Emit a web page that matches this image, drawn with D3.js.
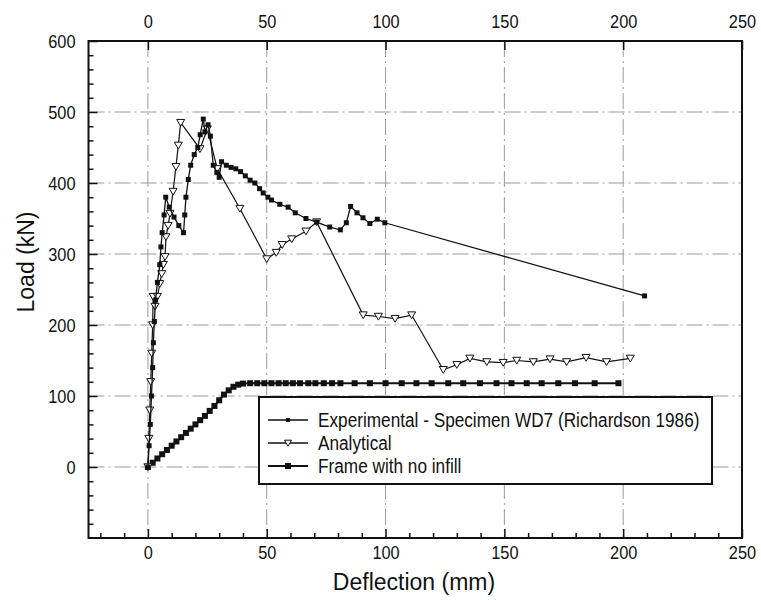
<!DOCTYPE html>
<html>
<head>
<meta charset="utf-8">
<script src="https://cdn.jsdelivr.net/npm/d3@7"></script>
<style>
  body { margin: 0; background: #fff; }
  text { font-family: "Liberation Sans", Arial, sans-serif; fill: #111; }
</style>
</head>
<body>
<svg></svg>
<script>
// Experimental - Specimen WD7 (Richardson 1986): [deflection mm, load kN]
let experimental = [
    [0, 0], [0.5, 30], [1, 60], [1.5, 100], [2, 140], [2.3, 175], [2.7, 205], [3.2, 235],
    [4, 260], [5, 285], [5.5, 310], [6, 330], [6.8, 355], [7.5, 380], [9, 366], [11, 352],
    [13, 340], [15, 330], [15.5, 355], [16, 380], [17, 405], [18, 425], [19.5, 440], [21, 450],
    [22, 468], [23.3, 490], [24, 472], [25.3, 482], [26.3, 466], [27.5, 425], [29, 415], [30, 408],
    [31, 430], [33, 425], [35, 422], [37, 420], [39, 416], [41, 410], [43, 404], [45, 400],
    [47, 392], [48.5, 386], [50.5, 380], [52, 376], [55.5, 370], [59, 366], [62, 358], [66.5, 350],
    [71, 345], [76.5, 338], [81, 334], [83.5, 344], [85.3, 367], [88, 358], [90.5, 351], [93.4, 343],
    [96.5, 349], [99.7, 344], [209, 241]
];

// Analytical model
let analytical = [
    [0, 0], [0.4, 40], [0.8, 80], [1.2, 120], [1.6, 160], [2, 200], [2.2, 240], [3, 226],
    [4, 240], [5, 258], [5.8, 272], [6.5, 285], [7.2, 296], [7.6, 324], [8.5, 340], [9.3, 357],
    [10.6, 388], [11.8, 423], [12.8, 453], [13.8, 485], [21.9, 448], [25, 476], [29.2, 420],
    [38.7, 364], [50, 293], [54, 302], [56.5, 313], [60.5, 321], [66.5, 332], [71, 345],
    [90.6, 214], [97, 212], [104, 209], [111, 214], [124.3, 137], [130, 144], [135.5, 153],
    [142.6, 148], [149.5, 147], [155.2, 150], [162.2, 148], [169.2, 152], [176.2, 148],
    [184.4, 154], [193, 148], [203, 153]
];

// Frame with no infill
let noInfill = [
    [0, 0], [2, 6], [4, 12], [6, 18], [8, 24], [10, 30], [12, 36], [14, 42], [16, 48],
    [18, 54], [20, 60], [22, 66], [24, 72], [26, 79], [28, 86], [30, 94], [32, 102], [34, 108],
    [36, 113], [38, 116], [40, 117.5], [43, 118], [46, 118], [49, 118], [52, 118], [55, 118],
    [58, 118], [61, 118], [64, 118], [67.5, 118], [70.5, 118], [74, 118], [77.5, 118], [81, 118],
    [87, 118], [93.4, 118], [100, 118], [106.8, 118], [113, 118], [119.4, 118], [126.4, 118],
    [132.7, 118], [139.7, 118], [146.7, 118], [153, 118], [159.4, 118], [165.7, 118], [172.7, 118],
    [179.7, 118], [188, 118], [198, 118]
];

let xTicks = [0, 50, 100, 150, 200, 250];
let yTicks = [0, 100, 200, 300, 400, 500, 600];
let xMinor = [-20, -10, 10, 20, 30, 40, 60, 70, 80, 90, 110, 120, 130, 140, 160, 170, 180, 190, 210, 220, 230, 240];
let yMinor = [-80, -60, -40, -20, 20, 40, 60, 80, 120, 140, 160, 180, 220, 240, 260, 280, 320, 340, 360, 380, 420, 440, 460, 480, 520, 540, 560, 580];
let legendLabels = ['Experimental - Specimen WD7 (Richardson 1986)', 'Analytical', 'Frame with no infill'];

let width = 761;
let height = 600;
let plotL = 88.5, plotR = 742, plotT = 41, plotB = 538;

let svg = d3.select('svg').attr('width', width).attr('height', height);

let xScale = d3.scaleLinear().domain([-25, 250]).range([plotL, plotR]);
let yScale = d3.scaleLinear().domain([-100, 600]).range([plotB, plotT]);

// squeeze text horizontally (the original uses a narrow face)
let condense = (sel, f) => sel.each(function () {
    let w = this.getComputedTextLength();
    d3.select(this).attr('textLength', w * f).attr('lengthAdjust', 'spacingAndGlyphs');
});

// dashed grid
let grid = svg.append('g').attr('stroke', '#9a9a9a').attr('stroke-width', 1).attr('stroke-dasharray', '16,4,2,4');
grid.selectAll('.gx').data(xTicks.filter(d => d < 250)).enter().append('line')
    .attr('x1', d => xScale(d)).attr('x2', d => xScale(d))
    .attr('y1', plotT).attr('y2', plotB);
grid.selectAll('.gy').data(yTicks.filter(d => d < 600)).enter().append('line')
    .attr('x1', plotL).attr('x2', plotR)
    .attr('y1', d => yScale(d)).attr('y2', d => yScale(d));

// axes: bottom, top and left carry labels, right is plain
let xBottom = d3.axisBottom(xScale).tickValues(xTicks).tickSize(-9).tickPadding(8);
let xBottomMinor = d3.axisBottom(xScale).tickValues(xMinor).tickSize(-5).tickFormat('');
let xTop = d3.axisTop(xScale).tickValues(xTicks).tickSize(-9).tickPadding(13);
let yLeft = d3.axisLeft(yScale).tickValues(yTicks).tickSize(-9).tickPadding(13);
let yLeftMinor = d3.axisLeft(yScale).tickValues(yMinor).tickSize(-5).tickFormat('');

let styleAxis = (g) => {
    g.select('.domain').remove();
    g.selectAll('line').attr('stroke', '#111').attr('stroke-width', 1.5);
    g.selectAll('text').attr('font-size', 19).attr('fill', '#111')
        .style('font-family', '"Liberation Sans", Arial, sans-serif')
        .call(condense, 0.86);
};

svg.append('g').attr('transform', `translate(0,${plotB})`).call(xBottom).call(styleAxis);
svg.append('g').attr('transform', `translate(0,${plotB})`).call(xBottomMinor).call(styleAxis);
svg.append('g').attr('transform', `translate(0,${plotT})`).call(xTop).call(styleAxis);
svg.append('g').attr('transform', `translate(${plotL},0)`).call(yLeft).call(styleAxis);
svg.append('g').attr('transform', `translate(${plotL},0)`).call(yLeftMinor).call(styleAxis);

// plot frame
svg.append('rect').attr('x', plotL).attr('y', plotT)
    .attr('width', plotR - plotL).attr('height', plotB - plotT)
    .attr('fill', 'none').attr('stroke', '#111').attr('stroke-width', 2);

// axis titles
svg.append('text').attr('x', 414).attr('y', 590)
    .attr('text-anchor', 'middle').attr('font-size', 23).text('Deflection (mm)');
svg.append('text').attr('transform', 'translate(34,262) rotate(-90)')
    .attr('text-anchor', 'middle').attr('font-size', 23).text('Load (kN)');

let line = d3.line().x(d => xScale(d[0])).y(d => yScale(d[1]));
let triangle = (s) => `M${-s},${-s * 0.8}L${s},${-s * 0.8}L0,${s * 0.9}Z`;

// frame with no infill
svg.append('path').datum(noInfill).attr('d', line)
    .attr('fill', 'none').attr('stroke', '#111').attr('stroke-width', 2);
svg.selectAll('.nf').data(noInfill).enter().append('rect')
    .attr('x', d => xScale(d[0]) - 3).attr('y', d => yScale(d[1]) - 3)
    .attr('width', 6).attr('height', 6).attr('fill', '#111');

// analytical
svg.append('path').datum(analytical).attr('d', line)
    .attr('fill', 'none').attr('stroke', '#111').attr('stroke-width', 1.2);
svg.selectAll('.an').data(analytical).enter().append('path')
    .attr('transform', d => `translate(${xScale(d[0])},${yScale(d[1])})`)
    .attr('d', triangle(4)).attr('fill', '#fff').attr('stroke', '#111').attr('stroke-width', 1);

// experimental
svg.append('path').datum(experimental).attr('d', line)
    .attr('fill', 'none').attr('stroke', '#111').attr('stroke-width', 1.3);
svg.selectAll('.ex').data(experimental).enter().append('rect')
    .attr('x', d => xScale(d[0]) - 2.5).attr('y', d => yScale(d[1]) - 2.5)
    .attr('width', 5).attr('height', 5).attr('fill', '#111');

// legend
let legend = svg.append('g');
legend.append('rect').attr('x', 259).attr('y', 397).attr('width', 453).attr('height', 87)
    .attr('fill', '#fff').attr('stroke', '#111').attr('stroke-width', 2);
legendLabels.forEach((label, i) => {
    let y = 420 + i * 23;
    legend.append('line').attr('x1', 268).attr('x2', 308).attr('y1', y).attr('y2', y)
        .attr('stroke', '#111').attr('stroke-width', i === 2 ? 2 : 1.3);
    if (i === 0) {
        legend.append('rect').attr('x', 286).attr('y', y - 2).attr('width', 4).attr('height', 4).attr('fill', '#111');
    } else if (i === 1) {
        legend.append('path').attr('transform', `translate(288,${y})`).attr('d', triangle(3.5))
            .attr('fill', '#fff').attr('stroke', '#111');
    } else {
        legend.append('rect').attr('x', 285).attr('y', y - 3).attr('width', 6).attr('height', 6).attr('fill', '#111');
    }
    legend.append('text').attr('x', 318).attr('y', y + 7).attr('font-size', 20).text(label)
        .call(condense, 0.86);
});
</script>
</body>
</html>
